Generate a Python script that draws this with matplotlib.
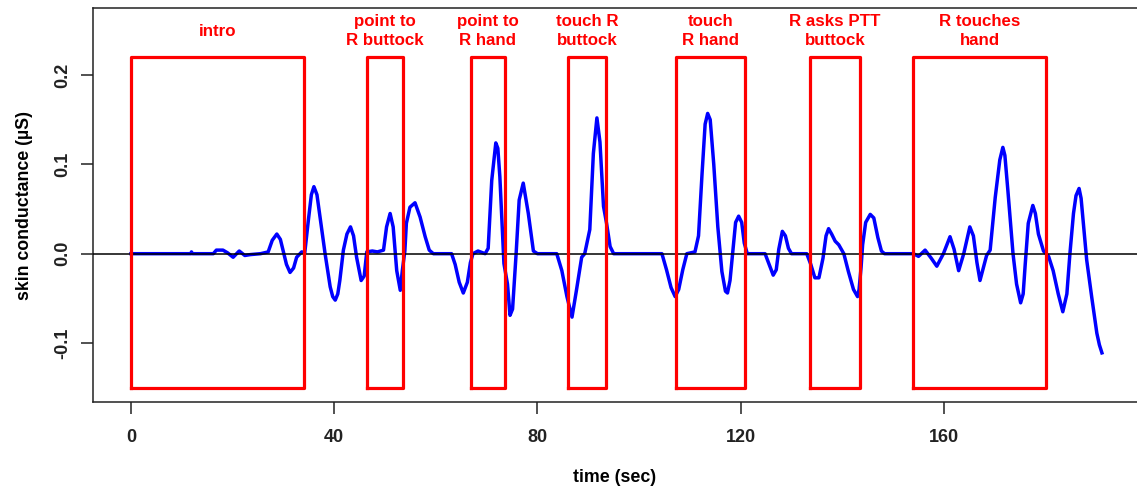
import matplotlib
matplotlib.use("Agg")
import matplotlib.pyplot as plt

# skin conductance trace (time in sec, value in uS)
time = [0, 5, 11.8, 11.9, 12.1, 16.2, 16.8, 18.1, 19.0, 20.1, 21.3, 22.4, 23.5, 25.5,
        27.0, 27.8, 28.7, 29.4, 30.0, 30.6, 31.3, 32.0, 32.6, 33.6, 34.2,
        34.9, 35.5, 36.0, 36.6, 37.2, 38.2, 39.2, 39.7, 40.2, 40.7, 41.1, 41.8,
        42.5, 43.2, 43.8, 44.4, 45.3, 45.9, 46.4, 47.5, 48.5,
        49.7, 50.3, 51.0, 51.6, 52.3, 53.0, 53.4, 53.9, 54.2, 54.9, 55.9, 56.9, 57.9, 58.7,
        59.5, 63.1, 63.8, 64.6, 65.4, 66.2, 66.8, 67.3, 68.3, 69.7,
        70.3, 71.0, 71.8, 72.2, 72.6, 73.0, 73.4, 74.1, 74.6, 75.1, 75.8, 76.4, 77.2, 78.2, 79.2,
        80, 83.8, 84.8, 85.8, 86.8, 87.7, 88.7, 89.3,
        90.3, 91.0, 91.7, 92.3, 93.0, 93.6, 94.3, 95.0,
        104.5, 105.4, 106.3, 107.1, 107.8, 108.6, 109.4, 111.0,
        111.7, 112.4, 113.0, 113.5, 114.0, 114.7, 115.5, 116.3, 117.0, 117.4, 117.9, 118.4,
        119.0, 119.6, 120.2, 120.7, 121.3, 124.8, 125.6, 126.4, 127.0, 127.5, 128.2, 128.8,
        129.4, 130.0, 133.0, 133.8, 134.6, 135.4, 136.2, 136.8, 137.3, 137.9, 138.6, 139.3,
        140.3, 141.2, 142.2, 143.0, 143.3, 143.7, 144.0, 144.6, 145.5, 146.2, 147.0, 147.7,
        148.3, 154.0, 155.0, 156.3, 157.5, 158.6, 159.9, 161.2, 162.0, 162.9, 163.9,
        165.1, 165.8, 166.5, 167.1, 167.8, 168.4, 169.1, 170.1, 171.0, 171.6, 172.0,
        172.6, 173.6, 174.3, 175.1, 175.6, 176.0, 176.6, 177.5, 178.0, 178.6, 179.6,
        180.6, 181.5, 182.5, 183.4, 184.2, 184.8, 185.5, 186.0, 186.6, 187.0, 187.4,
        188.1, 189.1, 190.1, 190.6, 191.1]
sc = [0, 0, 0, 0.002, 0, 0, 0.004, 0.004, 0.001, -0.004, 0.003, -0.002, -0.001, 0,
      0.002, 0.015, 0.022, 0.016, 0.002, -0.012, -0.021, -0.016, -0.004, 0.002, 0.001,
      0.037, 0.066, 0.075, 0.066, 0.041, 0.000, -0.037, -0.048, -0.052, -0.045, -0.030, 0.004,
      0.022, 0.030, 0.020, -0.004, -0.030, -0.025, 0.002, 0.003, 0.002,
      0.004, 0.030, 0.045, 0.030, -0.019, -0.041, -0.019, 0.003, 0.034, 0.052, 0.057, 0.041,
      0.019, 0.004,
      0, 0, -0.012, -0.032, -0.044, -0.032, -0.010, 0, 0.003, 0,
      0.006, 0.082, 0.124, 0.118, 0.086, 0.038, -0.011, -0.034, -0.069, -0.062, 0.000, 0.060,
      0.079, 0.045, 0.003,
      0, 0, -0.019, -0.048, -0.071, -0.040, -0.004, 0,
      0.027, 0.112, 0.152, 0.125, 0.053, 0.034, 0.008, 0,
      0, -0.018, -0.038, -0.048, -0.040, -0.018, 0.000, 0.002,
      0.020, 0.090, 0.145, 0.157, 0.150, 0.100, 0.030, -0.020, -0.042, -0.044, -0.030, 0.000,
      0.035, 0.042, 0.035, 0.012, 0.000, 0, -0.012, -0.024, -0.018, 0.005, 0.025, 0.020,
      0.006, 0.000, 0, -0.012, -0.027, -0.027, -0.005, 0.020, 0.028, 0.022, 0.014, 0.010,
      0.000, -0.020, -0.040, -0.048, -0.040, -0.015, 0.010, 0.035, 0.044, 0.040, 0.018, 0.003,
      0.000, 0, -0.003, 0.004, -0.005, -0.014, 0.000, 0.019, 0.005, -0.019, 0.000,
      0.030, 0.020, -0.010, -0.030, -0.015, -0.002, 0.004, 0.063, 0.105, 0.119, 0.110,
      0.070, 0.000, -0.034, -0.055, -0.045, -0.012, 0.034, 0.054, 0.045, 0.022, 0.003,
      -0.003, -0.019, -0.045, -0.065, -0.045, 0.000, 0.045, 0.065, 0.073, 0.062, 0.037,
      -0.007, -0.049, -0.089, -0.102, -0.111]
assert len(time) == len(sc)

# event windows
box_start = [0, 46.4, 66.9, 86.1, 107.2, 133.6, 154.0]
box_end = [34, 53.6, 73.6, 93.5, 120.8, 143.5, 180.1]
box_labels = ["intro", "point to\nR buttock", "point to\nR hand", "touch R\nbuttock",
              "touch\nR hand", "R asks PTT\nbuttock", "R touches\nhand"]
box_low, box_high = -0.15, 0.22
label_y = 0.249

xticks = [0, 40, 80, 120, 160]
yticks = [-0.1, 0.0, 0.1, 0.2]

plt.rcParams['font.family'] = ['Liberation Sans', 'DejaVu Sans']
plt.rcParams['font.weight'] = 'bold'

fig = plt.figure(figsize=(11.37, 4.92), dpi=100)
W, H = 1137.0, 492.0
ax = fig.add_axes([93 / W, 1 - 402 / H, (1138 - 93) / W, (402 - 8) / H])

ax.plot(time, sc, color='#0000ff', lw=2.5, zorder=2)
ax.axhline(0, color='black', lw=1.1, zorder=3)
for s, e, lab in zip(box_start, box_end, box_labels):
    ax.plot([s, e, e, s, s], [box_low, box_low, box_high, box_high, box_low],
            color='#ff0000', lw=2.3, zorder=4)
    ax.text((s + e) / 2, label_y, lab, color='#ff0000', ha='center', va='center',
            fontsize=12.2, fontweight='bold', linespacing=1.3)

ax.set_xlim(-7.48, 198.2)
ax.set_ylim(-0.166, 0.275)
ax.set_xticks(xticks)
ax.set_xticklabels([str(t) for t in xticks])
ax.set_yticks(yticks)
ax.set_yticklabels(["-0.1", "0.0", "0.1", "0.2"], rotation=90, va='center')
ax.tick_params(direction='out', length=8.5, width=1.1, labelsize=13, colors='#222222')
ax.tick_params(axis='x', pad=11)
ax.tick_params(axis='y', pad=7)
for sp in ax.spines.values():
    sp.set_linewidth(1.1)
    sp.set_color('#222222')

ax.set_xlabel("time (sec)", fontsize=12.8, fontweight='bold')
ax.set_ylabel("skin conductance (µS)", fontsize=12.8, fontweight='bold')
ax.xaxis.set_label_coords((615 - 93) / 1045, (402 - 478) / 394)
ax.xaxis.label.set_va('center')
ax.yaxis.set_label_coords((25 - 93) / 1045, 0.5)
ax.yaxis.label.set_va('center')

fig.savefig("out.png", dpi=100)
